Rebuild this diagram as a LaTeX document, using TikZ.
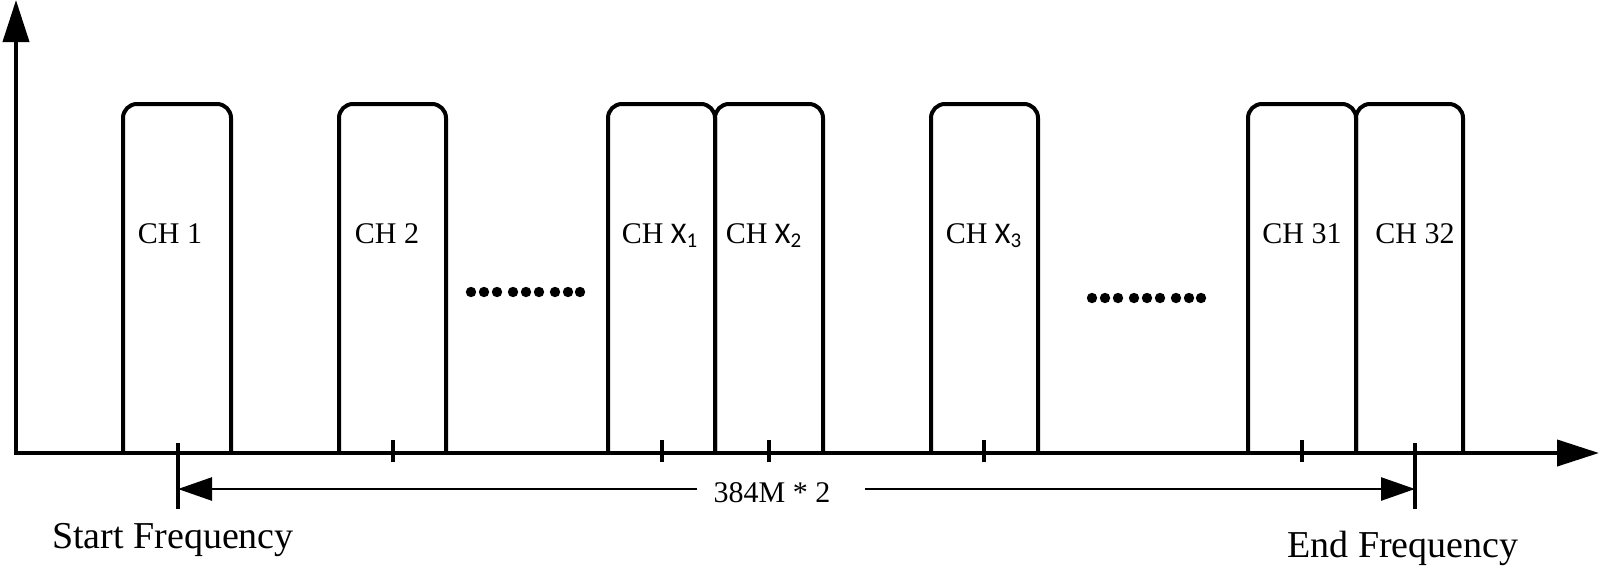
\documentclass[tikz,border=0pt]{standalone}
\usepackage{fontspec}
\setmainfont{Liberation Serif}
\newfontfamily\xfont{Carlito}
\usetikzlibrary{arrows.meta,calc}

\begin{document}
\begin{tikzpicture}[x=0.5pt,y=0.5pt,
	axis/.style={line width=2pt,{Triangle[length=21pt,width=13pt]}-{Triangle[length=21pt,width=13pt]}},
	chan/.style={line width=2pt,rounded corners=7pt},
	marker/.style={line width=2pt},
	dimline/.style={line width=1.3pt},
	chlabel/.style={font=\fontsize{15}{18}\selectfont,anchor=base,inner sep=0pt},
	freqlabel/.style={font=\fontsize{19}{22}\selectfont,anchor=base,inner sep=0pt}]

	\useasboundingbox (0,0) rectangle (1600,570);

	% axes coordinates
	\coordinate (O) at (16,117);
	\coordinate (Ytop) at (16,570);
	\coordinate (Xend) at (1599,117);

	% axes
	\draw[axis] (Ytop)--(O)--(Xend);

	% channels
	\foreach \l/\r in {123/231, 339/446, 608/715, 715/823, 931/1038, 1248/1356, 1356/1463}
		\draw[chan] (\l,117) |- (\r,466) -- (\r,117);

	% channels labels
	\node[chlabel] (ch1) at (170,327) {CH 1};
	\node[chlabel] (ch2) at (387,327) {CH 2};
	\node[chlabel] (chx1) at (660,327) {CH {\xfont X\textsubscript{1}}};
	\node[chlabel] (chx2) at (764,327) {CH {\xfont X\textsubscript{2}}};
	\node[chlabel] (chx3) at (984,327) {CH {\xfont X\textsubscript{3}}};
	\node[chlabel] (ch31) at (1302,327) {CH 31};
	\node[chlabel] (ch32) at (1415,327) {CH 32};

	% centre ticks
	\foreach \x in {393,662,769,984,1302}
		\draw[marker] (\x,108) -- (\x,130);

	% dots
	\foreach \s/\y in {471/278, 1092/272}
		\foreach \d in {0,13,26,42,55,68,84,97,109}
			\fill (\s+\d,\y) circle (2.6pt);

	% start and end frequency
	\coordinate (S) at (178,81);
	\coordinate (E) at (1415,81);
	\draw[marker] ($(S)+(0,-20)$)--($(S)+(0,46)$);
	\draw[marker] ($(E)+(0,-20)$)--($(E)+(0,46)$);

	\node[freqlabel] (startlbl) at (173,22) {Start Frequency};
	\node[freqlabel] (endlbl) at (1403,13) {End Frequency};

	% bandwidth
	\node[chlabel] (bw) at (772,68) {384M * 2};
	\coordinate (gapL) at (697,81);
	\coordinate (gapR) at (865,81);
	\draw[dimline,{Triangle[length=17pt,width=11.5pt]}-] (S)--(gapL);
	\draw[dimline,-{Triangle[length=17pt,width=11.5pt]}] (gapR)--(E);
\end{tikzpicture}
\end{document}
